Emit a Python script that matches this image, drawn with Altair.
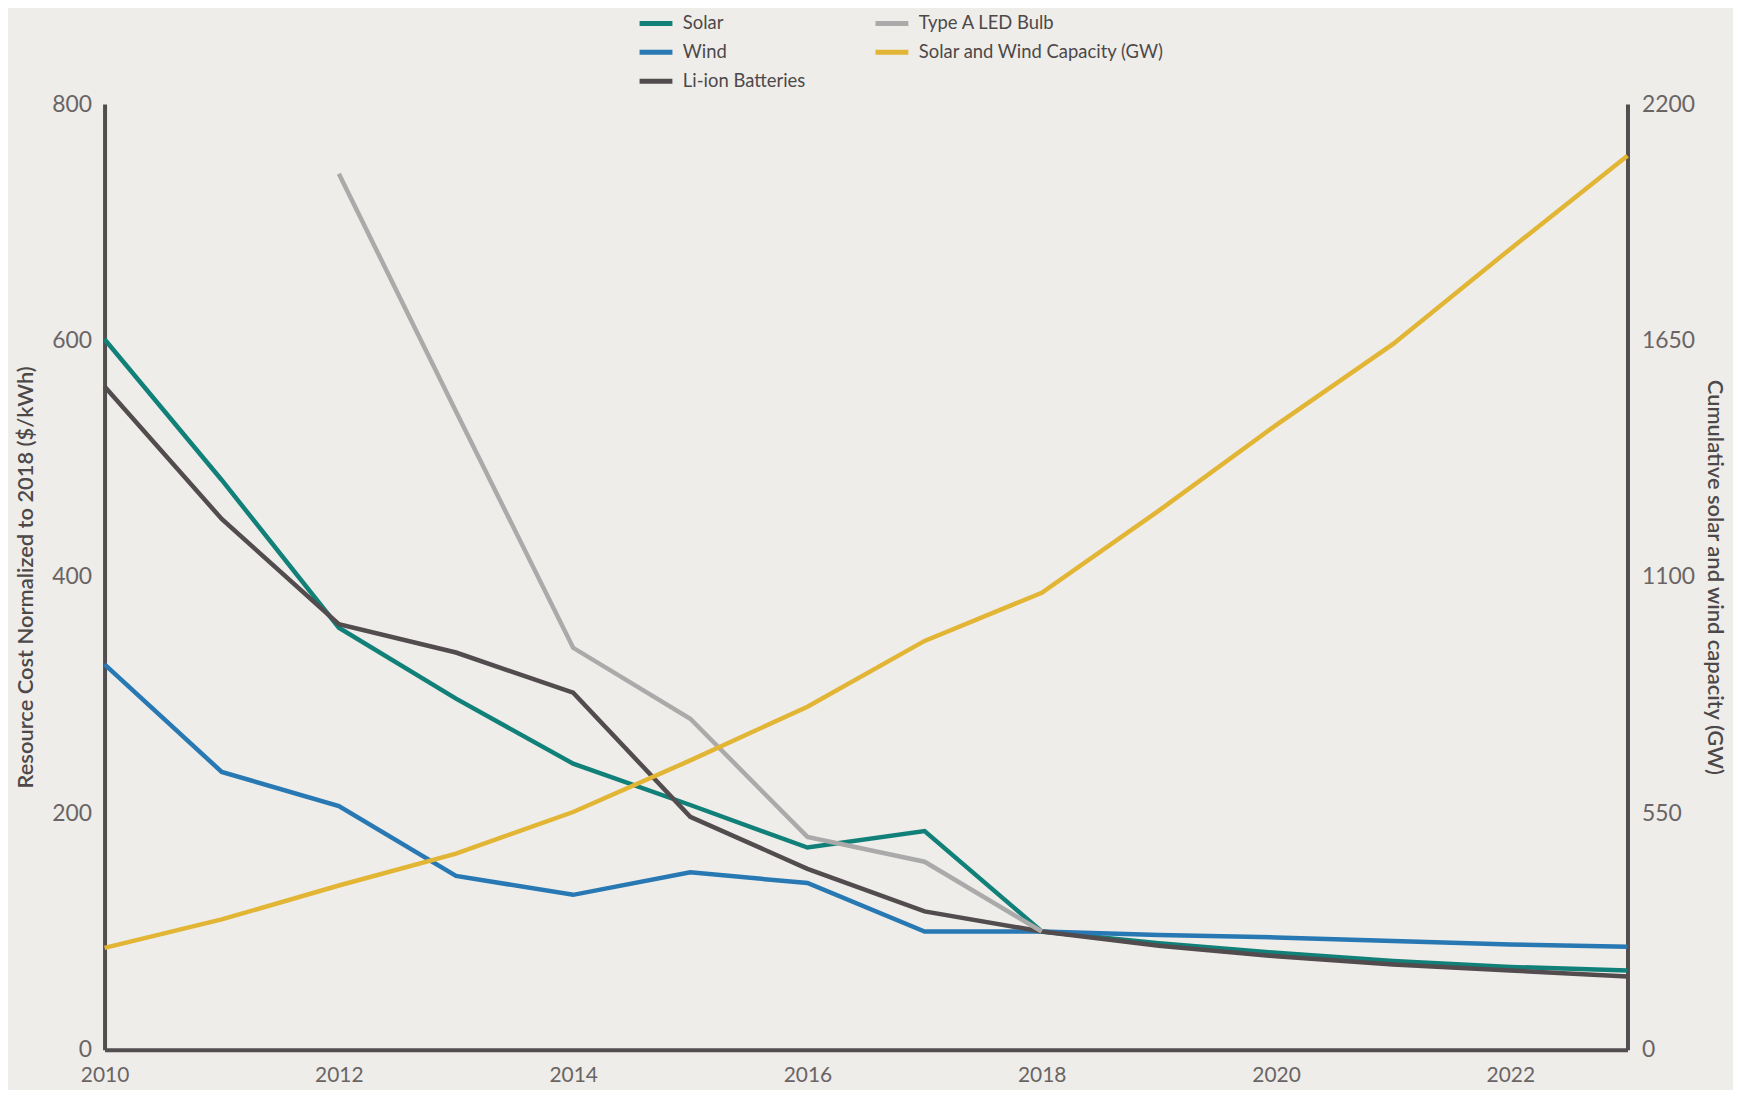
import altair as alt
import pandas as pd

years = list(range(2010, 2024))
solar = [601, 482, 357, 297, 242, 207, 171, 185, 100, 90, 82, 75, 70, 67]
wind = [326, 235, 206, 147, 131, 150, 141, 100, 100, 97, 95, 92, 89, 87]
liion = [561, 449, 360, 336, 302, 197, 153, 117, 100, 88, 79, 72, 67, 62]
led_years = list(range(2012, 2019))
led = [741, 540, 340, 280, 180, 159, 100]
capacity = [237, 303, 382, 456, 553, 673, 798, 951, 1063, 1254, 1453, 1642, 1863, 2080]

names = ["Solar", "Wind", "Li-ion Batteries", "Type A LED Bulb", "Solar and Wind Capacity (GW)"]
colors = ["#118078", "#2778b3", "#524c4e", "#aaaaaa", "#e2b535"]

rows = []
for y, v in zip(years, solar):
    rows.append({"year": y, "value": v, "series": "Solar"})
for y, v in zip(years, wind):
    rows.append({"year": y, "value": v, "series": "Wind"})
for y, v in zip(years, liion):
    rows.append({"year": y, "value": v, "series": "Li-ion Batteries"})
for y, v in zip(led_years, led):
    rows.append({"year": y, "value": v, "series": "Type A LED Bulb"})
cost_df = pd.DataFrame(rows)
cap_df = pd.DataFrame({"year": years, "value": capacity, "series": "Solar and Wind Capacity (GW)"})

FONT = "Lato"
AX = "#524d4f"
LBL = "#6a6465"

x_enc = alt.X(
    "year:Q",
    scale=alt.Scale(domain=[2010, 2023], nice=False, zero=False),
    axis=alt.Axis(
        values=[2010, 2012, 2014, 2016, 2018, 2020, 2022],
        format="d",
        title=None,
        ticks=False,
        grid=False,
        labelFlush=False,
        labelPadding=15,
        labelFontSize=21,
        labelColor=LBL,
        labelFont=FONT,
        domainColor=AX,
        domainWidth=4,
    ),
)

color_enc = alt.Color(
    "series:N",
    scale=alt.Scale(domain=names, range=colors),
    legend=alt.Legend(
        title=None,
        orient="none",
        legendX=535,
        legendY=-100,
        columns=2,
        symbolType="stroke",
        symbolSize=1089,
        symbolStrokeWidth=5,
        labelFontSize=18.5,
        labelFont=FONT,
        labelColor="#4d4849",
        labelLimit=400,
        labelOffset=8,
        rowPadding=0,
        columnPadding=60,
    ),
)

cost = alt.Chart(cost_df).mark_line(strokeWidth=4.5).encode(
    x=x_enc,
    y=alt.Y(
        "value:Q",
        scale=alt.Scale(domain=[0, 800], nice=False),
        axis=alt.Axis(
            orient="left",
            values=[0, 200, 400, 600, 800],
            title="Resource Cost Normalized to 2018 ($/kWh)",
            titleFontSize=22,
            titleFont=FONT,
            titleFontWeight=600,
            titleColor="#4d4849",
            titlePadding=14,
            ticks=False,
            grid=False,
            labelFlush=False,
            labelPadding=13,
            labelFontSize=23,
            labelColor=LBL,
            labelFont=FONT,
            domainColor=AX,
            domainWidth=4,
        ),
    ),
    color=color_enc,
    detail="series:N",
)

cap = alt.Chart(cap_df).mark_line(strokeWidth=4.5).encode(
    x=x_enc,
    y=alt.Y(
        "value:Q",
        scale=alt.Scale(domain=[0, 2200], nice=False),
        axis=alt.Axis(
            orient="right",
            values=[0, 550, 1100, 1650, 2200],
            format="d",
            title="Cumulative solar and wind capacity (GW)",
            titleFontSize=22,
            titleFont=FONT,
            titleFontWeight=600,
            titleColor="#4d4849",
            titlePadding=8,
            ticks=False,
            grid=False,
            labelFlush=False,
            labelPadding=14,
            labelFontSize=23,
            labelColor=LBL,
            labelFont=FONT,
            domainColor=AX,
            domainWidth=4,
        ),
    ),
    color=color_enc,
)

chart = (
    alt.layer(cost, cap)
    .resolve_scale(y="independent")
    .properties(
        width=1530,
        height=950,
        background="#eeede9",
        padding={"left": 97, "top": 94, "right": 106, "bottom": 38},
        autosize=alt.AutoSizeParams(type="none"),
    )
    .configure_view(stroke=None)
)

chart.save("out.html", embed_options={"renderer": "svg", "actions": False})
